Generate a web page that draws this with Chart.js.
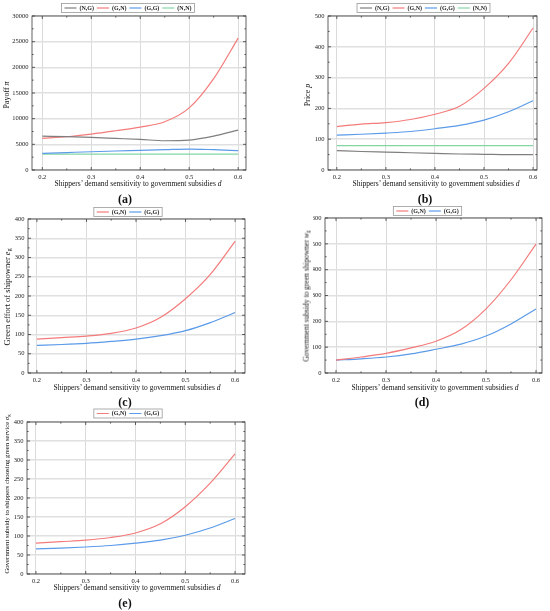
<!DOCTYPE html>
<html>
<head>
<meta charset="utf-8">
<script src="https://cdn.jsdelivr.net/npm/chart.js@4.4.1/dist/chart.umd.min.js"></script>
<style>
  body { margin: 0; background: #fff; }
  #wrap { position: relative; width: 550px; height: 611px; overflow: hidden;
          font-family: "Liberation Serif", "DejaVu Serif", serif; color: #111; }
  canvas { position: absolute; }
  .yt, .xt, .lab { position: absolute; white-space: nowrap; line-height: 1; }
  .yt { transform: translate(-50%, -50%) rotate(-90deg); }
  .xt { transform: translate(-50%, -50%); font-size: 7.5px; }
  .lab { transform: translate(-50%, -50%); font-size: 12px; font-weight: bold; }
  sub { font-size: 0.7em; vertical-align: -0.25em; }
</style>
</head>
<body>
<div id="wrap">
  <canvas id="ca" width="275" height="200" style="left:0;top:0"></canvas>
  <canvas id="cb" width="275" height="200" style="left:275px;top:0"></canvas>
  <canvas id="cc" width="275" height="200" style="left:0;top:200px"></canvas>
  <canvas id="cd" width="275" height="200" style="left:275px;top:200px"></canvas>
  <canvas id="ce" width="275" height="211" style="left:0;top:400px"></canvas>

  <div class="yt" style="left:7px;top:95px;font-size:8px">Payoff <i>π</i></div>
  <div class="xt" style="left:138px;top:184px">Shippers’ demand sensitivity to government subsidies <i>d</i></div>
  <div class="lab" style="left:125px;top:199px">(a)</div>

  <div class="yt" style="left:308px;top:95px;font-size:8px">Price <i>p</i></div>
  <div class="xt" style="left:436px;top:184px">Shippers’ demand sensitivity to government subsidies <i>d</i></div>
  <div class="lab" style="left:425px;top:199px">(b)</div>

  <div class="yt" style="left:8px;top:297px;font-size:8.5px">Green effort of shipowner <i>e</i><sub>g</sub></div>
  <div class="xt" style="left:137px;top:388px">Shippers’ demand sensitivity to government subsidies <i>d</i></div>
  <div class="lab" style="left:125px;top:402px">(c)</div>

  <div class="yt" style="left:307px;top:296px;font-size:7.5px">Government subsidy to green shipowner <i>w</i><sub>g</sub></div>
  <div class="xt" style="left:435px;top:388px">Shippers’ demand sensitivity to government subsidies <i>d</i></div>
  <div class="lab" style="left:422px;top:402px">(d)</div>

  <div class="yt" style="left:8px;top:494px;font-size:6.8px">Government subsidy to shippers choosing green service <i>σ</i><sub>g</sub></div>
  <div class="xt" style="left:137px;top:588px">Shippers’ demand sensitivity to government subsidies <i>d</i></div>
  <div class="lab" style="left:125px;top:603px">(e)</div>
</div>

<script>
// shippers' demand sensitivity d
const dVals = [0.2, 0.25, 0.3, 0.35, 0.4, 0.45, 0.5, 0.55, 0.6];
const xTicks = [0.2, 0.3, 0.4, 0.5, 0.6];

// (a) payoff
const payoffNG = [6600, 6500, 6350, 6150, 5950, 5700, 5830, 6600, 7780];
const payoffGN = [6150, 6480, 7000, 7650, 8360, 9400, 12100, 17800, 25700];
const payoffGG = [3240, 3400, 3560, 3700, 3820, 3950, 4080, 3950, 3760];
const payoffNN = [3080, 3080, 3080, 3080, 3080, 3080, 3080, 3080, 3080];
const payoffTicks = [0, 5000, 10000, 15000, 20000, 25000, 30000];

// (b) price
const priceNG = [63, 60, 58, 56, 54, 52, 51, 50, 50];
const priceGN = [141, 149, 154, 164, 181, 207, 265, 346, 461];
const priceGG = [113, 116, 120, 125, 134, 145, 162, 189, 225];
const priceNN = [79, 79, 79, 79, 79, 79, 79, 79, 79];
const priceTicks = [0, 100, 200, 300, 400, 500];

// (c) green effort e_g
const effortGN = [88, 92, 96, 103, 117, 145, 193, 256, 342];
const effortGG = [72, 74, 77, 82, 88, 97, 110, 131, 157];
const effortTicks = [0, 50, 100, 150, 200, 250, 300, 350, 400];

// (d) subsidy to green shipowner w_g
const wgGN = [50, 62, 76, 97, 123, 168, 248, 361, 499];
const wgGG = [50, 55, 62, 74, 92, 112, 143, 190, 248];
const wgTicks = [0, 100, 200, 300, 400, 500, 600];

// (e) subsidy to shippers sigma_g
const sigmaGN = [81, 85, 89, 96, 108, 132, 177, 239, 316];
const sigmaGG = [66, 68, 71, 75, 81, 89, 102, 121, 146];
const sigmaTicks = [0, 50, 100, 150, 200, 250, 300, 350, 400];

const FONT = '"Liberation Serif", "DejaVu Serif", serif';
const GRAY = '#7f7f7f', RED = '#f47b7b', BLUE = '#5b9be9', GREEN = '#86d4a4';

// frame, inward major/minor ticks on all sides, box round the legend
const frame = {
  id: 'frame',
  afterDraw(chart) {
    const { ctx, chartArea: a, scales } = chart;
    ctx.save();
    ctx.strokeStyle = '#3a3a3a';
    ctx.lineWidth = 0.8;
    ctx.strokeRect(a.left, a.top, a.right - a.left, a.bottom - a.top);

    ctx.beginPath();
    const marks = (p, len, horiz) => {
      if (horiz) {
        ctx.moveTo(p, a.bottom); ctx.lineTo(p, a.bottom - len);
        ctx.moveTo(p, a.top); ctx.lineTo(p, a.top + len);
      } else {
        ctx.moveTo(a.left, p); ctx.lineTo(a.left + len, p);
        ctx.moveTo(a.right, p); ctx.lineTo(a.right - len, p);
      }
    };
    [[scales.x, true], [scales.y, false]].forEach(([s, horiz]) => {
      const vals = s.ticks.map(t => t.value);
      vals.forEach((v, i) => {
        marks(s.getPixelForValue(v), 3, horiz);
        if (i < vals.length - 1) marks(s.getPixelForValue((v + vals[i + 1]) / 2), 1.6, horiz);
      });
    });
    ctx.stroke();

    const hb = chart.legend.legendHitBoxes;
    if (hb && hb.length) {
      const l = Math.min(...hb.map(h => h.left)) - 3;
      const r = Math.max(...hb.map(h => h.left + h.width)) + 3;
      const t = Math.min(...hb.map(h => h.top)) - 1.5;
      const b = Math.max(...hb.map(h => h.top + h.height)) + 1.5;
      ctx.strokeStyle = '#9a9a9a';
      ctx.lineWidth = 0.8;
      ctx.strokeRect(l, t, r - l, b - t);
    }
    ctx.restore();
  }
};

function makeChart(id, series, yTicks, opt) {
  new Chart(document.getElementById(id), {
    type: 'line',
    data: {
      datasets: series.map(s => ({
        label: s.label,
        data: dVals.map((d, i) => ({ x: d, y: s.data[i] })),
        borderColor: s.color,
        backgroundColor: s.color,
        borderWidth: 1.2,
        pointRadius: 0,
        fill: false,
        cubicInterpolationMode: 'monotone'
      }))
    },
    options: {
      responsive: false,
      animation: false,
      events: [],
      layout: { padding: opt.pad },
      plugins: {
        tooltip: { enabled: false },
        legend: {
          position: 'top',
          maxHeight: opt.legendH,
          labels: {
            usePointStyle: true,
            pointStyle: 'line',
            pointStyleWidth: 12,
            boxHeight: 6,
            padding: 3,
            color: '#222',
            font: { family: FONT, size: 6, weight: 'bold' }
          }
        }
      },
      scales: {
        x: {
          type: 'linear',
          min: opt.xMin,
          max: opt.xMax,
          afterBuildTicks: s => { s.ticks = xTicks.map(v => ({ value: v })); },
          afterFit: s => { s.height = 12; },
          grid: { color: '#d2d2d2', lineWidth: 0.8, drawTicks: false },
          border: { display: false },
          ticks: { padding: 3, color: '#222', font: { family: FONT, size: 6.5 },
                   callback: v => v.toFixed(1) }
        },
        y: {
          min: yTicks[0],
          max: yTicks[yTicks.length - 1],
          afterBuildTicks: s => { s.ticks = yTicks.map(v => ({ value: v })); },
          afterFit: s => { s.width = opt.yW; },
          grid: { color: '#e0e0e0', lineWidth: 1.5, drawTicks: false },
          border: { display: false },
          ticks: { padding: 3.5, color: '#222', font: { family: FONT, size: 6.5 },
                   callback: v => String(v) }
        }
      }
    },
    plugins: [frame]
  });
}

makeChart('ca', [
  { label: '(N,G)', data: payoffNG, color: GRAY },
  { label: '(G,N)', data: payoffGN, color: RED },
  { label: '(G,G)', data: payoffGG, color: BLUE },
  { label: '(N,N)', data: payoffNN, color: GREEN }
], payoffTicks, { pad: { left: 10, right: 29, top: 2, bottom: 18 }, yW: 22, legendH: 14, xMin: 0.179, xMax: 0.616 });

makeChart('cb', [
  { label: '(N,G)', data: priceNG, color: GRAY },
  { label: '(G,N)', data: priceGN, color: RED },
  { label: '(G,G)', data: priceGG, color: BLUE },
  { label: '(N,N)', data: priceNN, color: GREEN }
], priceTicks, { pad: { left: 35, right: 13, top: 2, bottom: 18 }, yW: 18, legendH: 14, xMin: 0.182, xMax: 0.608 });

makeChart('cc', [
  { label: '(G,N)', data: effortGN, color: RED },
  { label: '(G,G)', data: effortGG, color: BLUE }
], effortTicks, { pad: { left: 11, right: 30, top: 6, bottom: 15 }, yW: 17, legendH: 13, xMin: 0.182, xMax: 0.62 });

makeChart('cd', [
  { label: '(G,N)', data: wgGN, color: RED },
  { label: '(G,G)', data: wgGG, color: BLUE }
], wgTicks, { pad: { left: 38, right: 8, top: 5, bottom: 15 }, yW: 12, legendH: 13, xMin: 0.178, xMax: 0.612 });

makeChart('ce', [
  { label: '(G,N)', data: sigmaGN, color: RED },
  { label: '(G,G)', data: sigmaGG, color: BLUE }
], sigmaTicks, { pad: { left: 11, right: 30, top: 7.5, bottom: 25 }, yW: 16, legendH: 14.5, xMin: 0.182, xMax: 0.62 });
</script>
</body>
</html>
